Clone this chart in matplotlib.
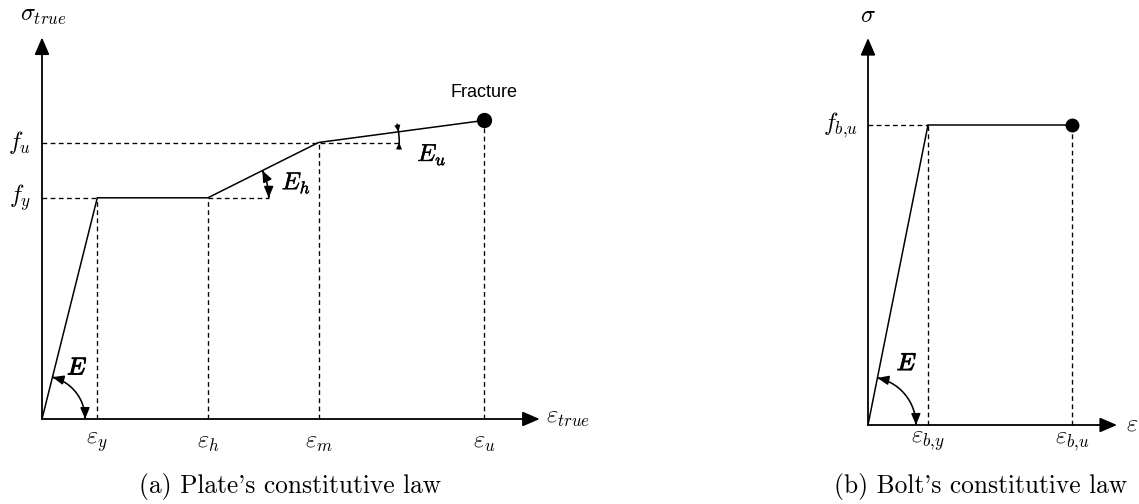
import numpy as np
import matplotlib
matplotlib.use("Agg")
import matplotlib.pyplot as plt
from matplotlib.patches import FancyArrowPatch
from matplotlib.path import Path
import matplotlib.patheffects as pe

plt.rcParams['mathtext.fontset'] = 'cm'

# ---- Plate constitutive law (schematic units) ----
plate_strain = [0.0, 1.0, 3.0, 5.0, 8.0]
plate_stress = [0.0, 4.0, 4.0, 5.0, 5.4]
plate_strain_labels = [r'$\varepsilon_y$', r'$\varepsilon_h$', r'$\varepsilon_m$', r'$\varepsilon_u$']
plate_stress_labels = [r'$f_y$', r'$f_u$']

# ---- Bolt constitutive law (schematic units) ----
bolt_strain = [0.0, 1.0, 3.4]
bolt_stress = [0.0, 5.0, 5.0]
bolt_strain_labels = [r'$\varepsilon_{b{,}y}$', r'$\varepsilon_{b{,}u}$']
bolt_stress_labels = [r'$f_{b{,}u}$']

W, H = 1139, 504
fig = plt.figure(figsize=(W / 100, H / 100), dpi=100)

DASH = (0, (3.6, 2.6))
LW_AX = 1.3
LW_CURVE = 1.1
LW_DASH = 0.95
MATH_FS = 17.5
bold = [pe.withStroke(linewidth=0.75, foreground='k')]
semibold = [pe.withStroke(linewidth=0.35, foreground='k')]


def make_axes(px0, px1, origin, scale):
    """Axes spanning pixel columns px0..px1 with 1 data unit = `scale` pixels."""
    ox, oy = origin
    ax = fig.add_axes([px0 / W, 0, (px1 - px0) / W, 1])
    ax.set_xlim((px0 - ox) / scale, (px1 - ox) / scale)
    ax.set_ylim(-(H - oy) / scale, oy / scale)
    ax.axis('off')
    return ax


def draw_axis_arrows(ax, xmax, ymax):
    style = '-|>,head_length=0.65,head_width=0.28'
    for end in [(xmax, 0), (0, ymax)]:
        ax.annotate('', xy=end, xytext=(0, 0),
                    arrowprops=dict(arrowstyle=style, lw=LW_AX, color='k',
                                    shrinkA=0, shrinkB=0, mutation_scale=16))


def angle_arc(ax, center, r, a0, a1, heads=True):
    t = np.radians(np.linspace(a0, a1, 60))
    verts = np.column_stack([center[0] + r * np.cos(t), center[1] + r * np.sin(t)])
    style = '<|-|>,head_length=0.6,head_width=0.25' if heads else '-'
    p = FancyArrowPatch(path=Path(verts), arrowstyle=style, mutation_scale=11,
                        lw=1.15, color='k')
    ax.add_patch(p)


def small_head(ax, center, r, a_tip, a_from):
    tip = (center[0] + r * np.cos(np.radians(a_tip)), center[1] + r * np.sin(np.radians(a_tip)))
    tail = (center[0] + r * np.cos(np.radians(a_from)), center[1] + r * np.sin(np.radians(a_from)))
    ax.annotate('', xy=tip, xytext=tail,
                arrowprops=dict(arrowstyle='-|>,head_length=0.5,head_width=0.22',
                                lw=0.0, color='k', shrinkA=0, shrinkB=0,
                                mutation_scale=10))


# ================= (a) Plate =================
ax1 = make_axes(0, 620, (42, 419), 55.3)
draw_axis_arrows(ax1, 9.0, 6.9)

# reference lines
ey, eh, em, eu = plate_strain[1:]
fy, fu, ff = plate_stress[1], plate_stress[3], plate_stress[4]
for x, y in zip(plate_strain[1:], plate_stress[1:]):
    ax1.plot([x, x], [0, y], color='k', lw=LW_DASH, ls=DASH)
ax1.plot([0, ey], [fy, fy], color='k', lw=LW_DASH, ls=DASH)
ax1.plot([eh, eh + 1.1], [fy, fy], color='k', lw=LW_DASH, ls=DASH)
ax1.plot([0, em + 1.46], [fu, fu], color='k', lw=LW_DASH, ls=DASH)

# constitutive curve
ax1.plot(plate_strain, plate_stress, color='k', lw=LW_CURVE, solid_joinstyle='miter')
ax1.plot([eu], [ff], 'o', color='k', ms=10)

# tick labels
for x, lab in zip(plate_strain[1:], plate_strain_labels):
    ax1.text(x, -0.42, lab, ha='center', va='center', fontsize=MATH_FS)
for y, lab in zip([fy, fu], plate_stress_labels):
    ax1.text(-0.2, y, lab, ha='right', va='center', fontsize=MATH_FS)
ax1.text(0.02, 7.3, r'$\sigma_{true}$', ha='center', va='center', fontsize=MATH_FS)
ax1.text(9.12, 0.03, r'$\varepsilon_{true}$', ha='left', va='center', fontsize=MATH_FS)
ax1.text(eu, ff + 0.5, 'Fracture', ha='center', va='center', fontsize=13,
         family='Liberation Sans')

# stiffness angles
ang_e = np.degrees(np.arctan2(fy, ey))
angle_arc(ax1, (0, 0), 0.78, 0, ang_e)
ax1.text(0.64, 0.93, r'$E$', ha='center', va='center', fontsize=MATH_FS, path_effects=bold)

ang_h = np.degrees(np.arctan2(fu - fy, em - eh))
angle_arc(ax1, (eh, fy), 1.1, 0, ang_h)
ax1.text(eh + 1.6, fy + 0.27, r'$E_h$', ha='center', va='center', fontsize=MATH_FS,
         path_effects=semibold)

ang_u = np.degrees(np.arctan2(ff - fu, eu - em))
angle_arc(ax1, (em, fu), 1.46, -4.5, ang_u + 5.5, heads=False)
small_head(ax1, (em, fu), 1.46, ang_u, ang_u + 5.5)
small_head(ax1, (em, fu), 1.46, 0, -4.5)
ax1.text(em + 2.05, fu - 0.22, r'$E_u$', ha='center', va='center', fontsize=MATH_FS,
         path_effects=semibold)

# ================= (b) Bolt =================
ax2 = make_axes(630, 1139, (868, 425), 60.0)
draw_axis_arrows(ax2, 4.15, 6.45)

eby, ebu = bolt_strain[1:]
fbu = bolt_stress[1]
for x in [eby, ebu]:
    ax2.plot([x, x], [0, fbu], color='k', lw=LW_DASH, ls=DASH)
ax2.plot([0, eby], [fbu, fbu], color='k', lw=LW_DASH, ls=DASH)
ax2.plot(bolt_strain, bolt_stress, color='k', lw=LW_CURVE, solid_joinstyle='miter')
ax2.plot([ebu], [fbu], 'o', color='k', ms=9)

for x, lab in zip([eby, ebu], bolt_strain_labels):
    ax2.text(x, -0.27, lab, ha='center', va='center', fontsize=MATH_FS)
ax2.text(-0.17, fbu, bolt_stress_labels[0], ha='right', va='center', fontsize=MATH_FS)
ax2.text(0.0, 6.83, r'$\sigma$', ha='center', va='center', fontsize=MATH_FS)
ax2.text(4.3, 0.03, r'$\varepsilon$', ha='left', va='center', fontsize=MATH_FS)

ang_b = np.degrees(np.arctan2(fbu, eby))
angle_arc(ax2, (0, 0), 0.8, 0, ang_b)
ax2.text(0.65, 1.03, r'$E$', ha='center', va='center', fontsize=MATH_FS, path_effects=bold)

# ================= captions =================
fig.text(290 / W, 1 - 487 / H, "(a) Plate's constitutive law", ha='center', va='center',
         fontsize=18.3, family='cmr10')
fig.text(981 / W, 1 - 487 / H, "(b) Bolt's constitutive law", ha='center', va='center',
         fontsize=18.3, family='cmr10')

fig.savefig('out.png', dpi=100, facecolor='white')
